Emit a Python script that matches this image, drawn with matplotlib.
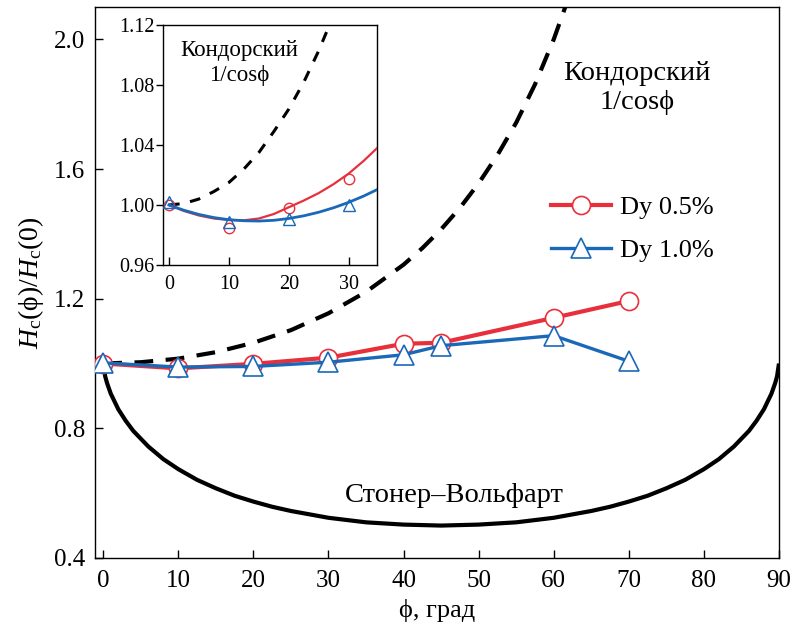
import matplotlib
matplotlib.use("Agg")
import matplotlib.pyplot as plt
import numpy as np

plt.rcParams['font.family'] = ['Liberation Serif', 'DejaVu Serif']
plt.rcParams['mathtext.fontset'] = 'custom'
plt.rcParams['mathtext.rm'] = 'Liberation Serif'
plt.rcParams['mathtext.it'] = 'Liberation Serif:italic'

# cores
cor_vermelho = '#e8303c'
cor_azul = '#1a68b8'

# --- dados experimentais (painel principal) ---
phi_exp = [0, 10, 20, 30, 40, 45, 60, 70]
dy05 = [1.000, 0.985, 0.999, 1.018, 1.061, 1.064, 1.141, 1.193]
dy10 = [1.002, 0.989, 0.991, 1.004, 1.027, 1.055, 1.086, 1.007]

# --- curva de Kondorsky 1/cos(phi), valores lidos ---
phi_kond = [0, 5, 10, 15, 20, 25, 30, 35, 40, 42.5, 45, 47.5, 50, 52.5, 55, 57.5, 60, 62]
h_kond = [1.000, 1.004, 1.015, 1.035, 1.064, 1.103, 1.155, 1.221, 1.305, 1.356,
          1.414, 1.480, 1.556, 1.643, 1.743, 1.861, 2.000, 2.130]

# --- curva de Stoner-Wohlfarth, valores lidos (metade, simetrica em 45) ---
phi_sw_meia = [0, 0.25, 0.5, 1, 2, 3, 4, 6, 8, 10, 12.5, 15, 17.5, 20, 22.5, 25, 30, 35, 40, 45]
h_sw_meia = [1.000, 0.961, 0.940, 0.907, 0.859, 0.823, 0.792, 0.744, 0.705, 0.674,
             0.641, 0.615, 0.592, 0.574, 0.558, 0.545, 0.524, 0.510, 0.503, 0.500]
phi_sw = phi_sw_meia + [90 - p for p in phi_sw_meia[::-1][1:]]
h_sw = h_sw_meia + h_sw_meia[::-1][1:]

# --- painel interno ---
phi_ins = [0, 10, 20, 30]
dy05_ins = [1.000, 0.9845, 0.998, 1.017]
dy10_ins = [1.002, 0.989, 0.991, 1.000]

phi_ajuste = [0, 2.5, 5, 7.5, 10, 12.5, 15, 17.5, 20, 22.5, 25, 27.5, 30, 32.5, 35]
ajuste05 = [1.000, 0.9960, 0.9930, 0.9910, 0.9900, 0.9898, 0.9910, 0.9940, 0.9985,
            1.0030, 1.0080, 1.0140, 1.0210, 1.0295, 1.0390]
ajuste10 = [1.000, 0.9965, 0.9937, 0.9916, 0.9902, 0.9895, 0.9893, 0.9898, 0.9910,
            0.9928, 0.9952, 0.9982, 1.0018, 1.0060, 1.0108]

phi_kond_ins = [0, 2.5, 5, 7.5, 10, 12.5, 15, 17.5, 20, 22.5, 25, 27.5]
h_kond_ins = [1.000, 1.001, 1.004, 1.009, 1.015, 1.024, 1.035, 1.049, 1.064, 1.082, 1.103, 1.127]

LARG, ALT = 793, 624


def pos_fig(x_px, y_px):
    # converte pixel (a partir do canto superior esquerdo) em fracao da figura
    return x_px / LARG, 1 - y_px / ALT


fig = plt.figure(figsize=(7.93, 6.24), dpi=100)
ax = fig.add_axes([0.1198, 0.1058, 0.8625, 0.883])

ax.plot(phi_sw, h_sw, color='black', lw=3.0, solid_capstyle='butt', zorder=2)
ax.plot(phi_kond, h_kond, color='black', lw=3.0, dashes=(4.5, 3), zorder=2)

ax.plot(phi_exp, dy05, '-o', color=cor_vermelho, lw=3.0, ms=13, mfc='white',
        mec=cor_vermelho, mew=1.2, label='Dy 0.5%', zorder=3)
ax.plot(phi_exp, dy10, '-^', color=cor_azul, lw=2.4, ms=14, mfc='white',
        mec=cor_azul, mew=1.2, label='Dy 1.0%', zorder=4)

ax.set_xlim(-1.1, 90)
ax.set_ylim(0.4, 2.1)
ax.set_xticks(np.arange(0, 91, 10))
ax.set_yticks([0.4, 0.8, 1.2, 1.6, 2.0])
ax.tick_params(direction='in', length=6, width=1, labelsize=18, pad=7)
ax.tick_params(axis='x', pad=9)
for s in ax.spines.values():
    s.set_linewidth(1.0)

ax.set_xlabel('ϕ, град', fontsize=19, labelpad=5)
ax.set_ylabel(r'$H_\mathrm{c}$(ϕ)/$H_\mathrm{c}$(0)', fontsize=20, labelpad=6)

x, y = pos_fig(637, 88)
fig.text(x, y, 'Кондорский\n1/cosϕ', ha='center', va='center',
         fontsize=20.5, linespacing=1.2)
x, y = pos_fig(454, 495)
fig.text(x, y, 'Стонер–Вольфарт', ha='center', va='center', fontsize=20.5)

leg = ax.legend(loc='upper left', bbox_to_anchor=(0.666, 0.657), frameon=False,
                fontsize=19, handlelength=2.3, handletextpad=0.35, labelspacing=0.73,
                borderpad=0, borderaxespad=0)

# --- painel interno ---
axi = fig.add_axes([0.2055, 0.5753, 0.2699, 0.3847])
axi.plot(phi_kond_ins, h_kond_ins, color='black', lw=2.2, dashes=(3.5, 3.5), zorder=2)
axi.plot(phi_ajuste, ajuste05, color=cor_vermelho, lw=1.6, zorder=3)
axi.plot(phi_ajuste, ajuste10, color=cor_azul, lw=2.0, zorder=3)
axi.plot(phi_ins, dy05_ins, 'o', ms=7.5, mfc='none', mec=cor_vermelho, mew=1.0, zorder=4)
axi.plot(phi_ins, dy10_ins, '^', ms=8, mfc='none', mec=cor_azul, mew=1.0, zorder=5)

axi.set_xlim(-1, 34.7)
axi.set_ylim(0.96, 1.12)
axi.set_xticks([0, 10, 20, 30])
axi.set_yticks([0.96, 1.00, 1.04, 1.08, 1.12])
axi.set_yticklabels(['0.96', '1.00', '1.04', '1.08', '1.12'])
axi.tick_params(axis='y', direction='out', length=5, width=1, labelsize=14.5, pad=1)
axi.tick_params(axis='x', direction='in', length=6, width=1, labelsize=14.5, pad=7)
for s in axi.spines.values():
    s.set_linewidth(1.0)
x, y = pos_fig(239, 63)
fig.text(x, y, 'Кондорский\n1/cosϕ', ha='center', va='center',
         fontsize=16.5, linespacing=1.2)

fig.savefig('out.png', dpi=100)
